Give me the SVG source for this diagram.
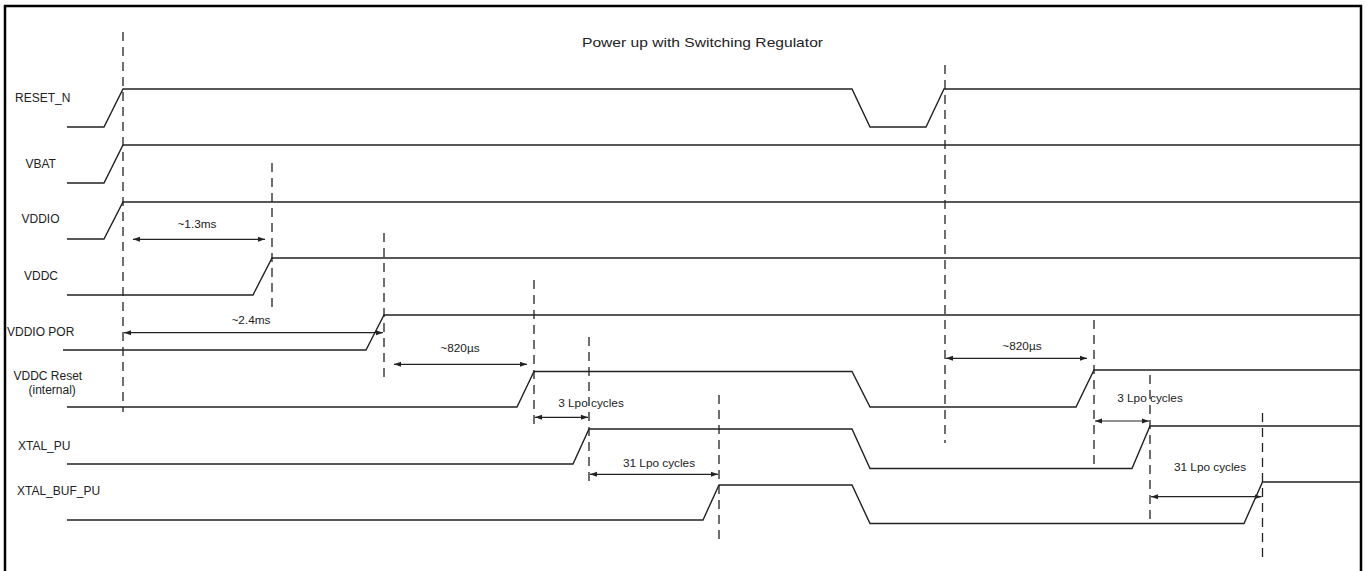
<svg xmlns="http://www.w3.org/2000/svg" width="1367" height="571" viewBox="0 0 1367 571">
<style>
text { font-family: "Liberation Sans", Arial, sans-serif; fill: #222; }
.lbl { font-size: 12px; }
.ann { font-size: 11.8px; text-anchor: middle; }
.wave { fill: none; stroke: #222; stroke-width: 1.4; stroke-linejoin: miter; }
.dash { fill: none; stroke: #222; stroke-width: 1.3; stroke-dasharray: 9 6; }
.dim { fill: none; stroke: #222; stroke-width: 1.2; marker-start: url(#ah); marker-end: url(#ah); }
</style>
<defs>
<marker id="ah" markerUnits="userSpaceOnUse" markerWidth="8" markerHeight="6" refX="7" refY="3" orient="auto-start-reverse">
<path d="M0,0.5 L7,3 L0,5.5 z" fill="#222"/>
</marker>
</defs>
<rect x="0" y="0" width="1367" height="571" fill="#fff"/>
<rect x="5" y="6" width="1356" height="580" fill="none" stroke="#000" stroke-width="2.5"/>
<text x="702.5" y="46.5" font-size="13.5" text-anchor="middle" textLength="241" lengthAdjust="spacingAndGlyphs">Power up with Switching Regulator</text>

<g id="reset_n">
<text class="lbl" x="15" y="102">RESET_N</text>
<path class="wave" d="M67,127 H104 L123,89 H852 L870,127 H926 L944,89 H1360"/>
</g>
<g id="vbat">
<text class="lbl" x="25.5" y="167.5">VBAT</text>
<path class="wave" d="M67,183 H104 L123,145 H1360"/>
</g>
<g id="vddio">
<text class="lbl" x="21.5" y="223.3">VDDIO</text>
<path class="wave" d="M67,239 H104 L123,202 H1360"/>
</g>
<g id="vddc">
<text class="lbl" x="24" y="280">VDDC</text>
<path class="wave" d="M67,295 H253 L272,258 H1360"/>
</g>
<g id="vddio_por">
<text class="lbl" x="7" y="336">VDDIO POR</text>
<path class="wave" d="M63,350 H366 L384,315 H1360"/>
</g>
<g id="vddc_reset">
<text class="lbl" x="13.5" y="380">VDDC Reset</text>
<text class="lbl" x="28.5" y="394" font-size="11">(internal)</text>
<path class="wave" d="M67,407 H517 L534,371.5 H852 L870,407 H1076 L1094,370 H1360"/>
</g>
<g id="xtal_pu">
<text class="lbl" x="18" y="450">XTAL_PU</text>
<path class="wave" d="M67,464 H573 L589,429 H852 L870,468.5 H1132 L1150,426 H1360"/>
</g>
<g id="xtal_buf_pu">
<text class="lbl" x="17" y="494.5">XTAL_BUF_PU</text>
<path class="wave" d="M67,520 H703 L719,485 H852 L870,523.5 H1244 L1262.5,482 H1360"/>
</g>

<g id="connectors">
<line class="dash" x1="123" y1="32" x2="123" y2="412"/>
<line class="dash" x1="272" y1="163" x2="272" y2="312"/>
<line class="dash" x1="384" y1="233" x2="384" y2="383"/>
<line class="dash" x1="534" y1="280" x2="534" y2="429"/>
<line class="dash" x1="589" y1="337" x2="589" y2="487"/>
<line class="dash" x1="719" y1="395" x2="719" y2="543"/>
<line class="dash" x1="945" y1="65" x2="945" y2="443"/>
<line class="dash" x1="1094" y1="320" x2="1094" y2="468"/>
<line class="dash" x1="1150" y1="375" x2="1150" y2="523"/>
<line class="dash" x1="1262.5" y1="413" x2="1262.5" y2="563"/>

<line class="dim" x1="133" y1="239.3" x2="265" y2="239.3"/>
<line class="dim" x1="124" y1="332.7" x2="383" y2="332.7"/>
<line class="dim" x1="394" y1="364.3" x2="527" y2="364.3"/>
<line class="dim" x1="535" y1="417.3" x2="588" y2="417.3"/>
<line class="dim" x1="590" y1="474.3" x2="718" y2="474.3"/>
<line class="dim" x1="946" y1="358.3" x2="1087" y2="358.3"/>
<line class="dim" x1="1095" y1="421" x2="1149" y2="421"/>
<line class="dim" x1="1151" y1="496.7" x2="1261.5" y2="496.7"/>

<text class="ann" x="197" y="228">~1.3ms</text>
<text class="ann" x="251" y="324">~2.4ms</text>
<text class="ann" x="460" y="352">~820µs</text>
<text class="ann" x="591" y="407">3 Lpo cycles</text>
<text class="ann" x="659" y="467">31 Lpo cycles</text>
<text class="ann" x="1022" y="350">~820µs</text>
<text class="ann" x="1150" y="401.5">3 Lpo cycles</text>
<text class="ann" x="1210" y="471">31 Lpo cycles</text>
</g>
</svg>
